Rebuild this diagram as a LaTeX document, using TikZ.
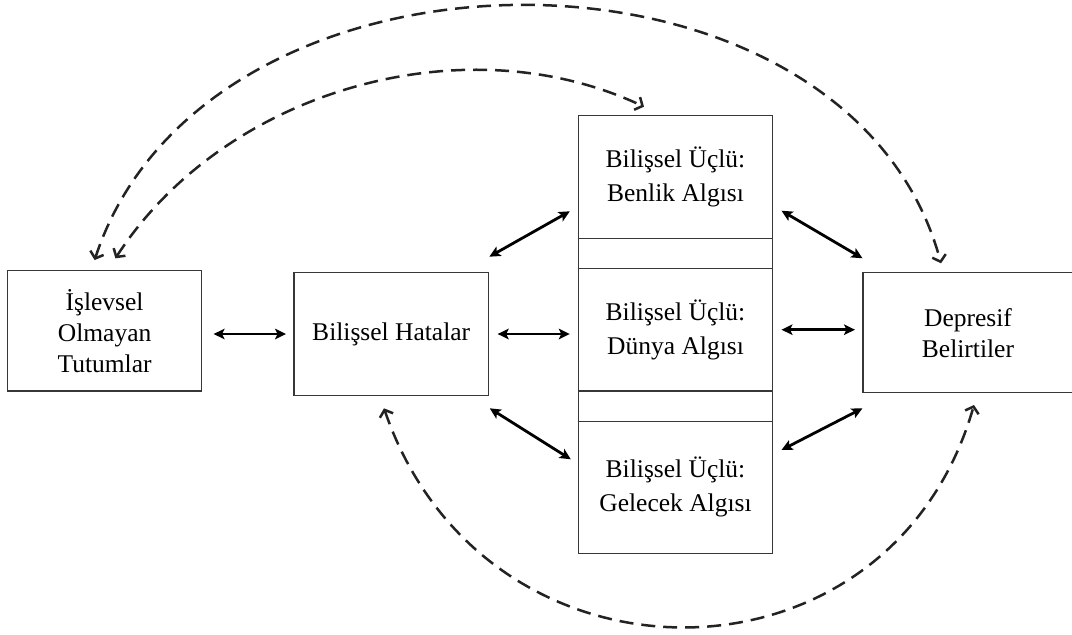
\documentclass[tikz,border=0pt]{standalone}
\usepackage{fontspec}
\setmainfont{Liberation Serif}
\usetikzlibrary{arrows.meta}
\definecolor{kutucizgi}{RGB}{55,55,55}
\definecolor{kesik}{RGB}{35,35,35}

\begin{document}
\begin{tikzpicture}[x=1pt,y=-1pt,
		kutu/.style={draw=kutucizgi,line width=1.5pt,outer sep=0pt,inner sep=0pt,align=center,font=\fontsize{25.5}{31}\selectfont},
		ucgen/.style={kutu,minimum width=194pt,font=\fontsize{25.5}{34}\selectfont},
		iki/.style={{Stealth[length=11pt,width=10.5pt,inset=2.5pt]}-{Stealth[length=11pt,width=10.5pt,inset=2.5pt]},line width=2.8pt},
		geri/.style={{Straight Barb[length=6pt,width=14pt]}-{Straight Barb[length=6pt,width=14pt]},draw=kesik,line width=2.5pt,dash pattern=on 14pt off 8pt}]
	\useasboundingbox[fill=white] (0,0) rectangle (1072,635);

	\node[kutu,minimum width=194pt,minimum height=120.5pt] (tutum) at (104.6,330.8) {İşlevsel\\Olmayan\\Tutumlar};
	\node[kutu,minimum width=194.3pt,minimum height=122.6pt] (hata) at (391.2,334) {Bilişsel Hatalar};
	\node[ucgen,minimum height=122.6pt] (benlik) at (675.5,177) {Bilişsel Üçlü:\\Benlik Algısı};
	\node[ucgen,minimum height=122.7pt] (dunya) at (675.5,329.7) {Bilişsel Üçlü:\\Dünya Algısı};
	\node[ucgen,minimum height=132pt] (gelecek) at (675.5,487.3) {Bilişsel Üçlü:\\Gelecek Algısı};
	\node[kutu,minimum width=210pt,minimum height=120pt] (belirti) at (968,332.7) {Depresif\\Belirtiler};

	% bands between the triad boxes
	\draw[draw=kutucizgi,line width=1.5pt] (benlik.south west) rectangle (dunya.north east);
	\draw[draw=kutucizgi,line width=1.5pt] (dunya.south west) rectangle (gelecek.north east);

	\path[iki]
	(tutum.east |- hata.west) edge[shorten <=12pt,shorten >=8pt] (hata.west)
	(hata.east) edge[shorten <=9.3pt,shorten >=8.7pt] (hata.east -| dunya.west)
	(dunya.east) edge[shorten <=9pt,shorten >=8pt] (dunya.east -| belirti.west)
	([xshift=1pt,yshift=16pt]hata.north east) edge ([xshift=-8.7pt,yshift=27pt]benlik.south west)
	([xshift=1.4pt,yshift=-13pt]hata.south east) edge ([xshift=-7.7pt,yshift=-38pt]gelecek.north west)
	([xshift=9pt,yshift=27.6pt]benlik.south east) edge ([xshift=-0.5pt,yshift=14.4pt]belirti.north west)
	([xshift=9pt,yshift=-28.7pt]gelecek.north east) edge ([xshift=-0.5pt,yshift=-15.6pt]belirti.south west);

	% feedback loops
	\draw[geri] ([xshift=-10pt,yshift=10.5pt]tutum.north) .. controls +(111.3,-340) and +(-92,-343) .. ([xshift=-27pt,yshift=9.4pt]belirti.north);
	\draw[geri] ([xshift=10.8pt,yshift=12.2pt]tutum.north) .. controls +(108.6,-167.7) and +(-180,-85) .. ([xshift=-31.5pt,yshift=9pt]benlik.north);
	\draw[geri] ([xshift=-7.2pt,yshift=-13pt]hata.south) .. controls +(100,292) and +(-85,295) .. ([xshift=6pt,yshift=-12.3pt]belirti.south);
\end{tikzpicture}
\end{document}
